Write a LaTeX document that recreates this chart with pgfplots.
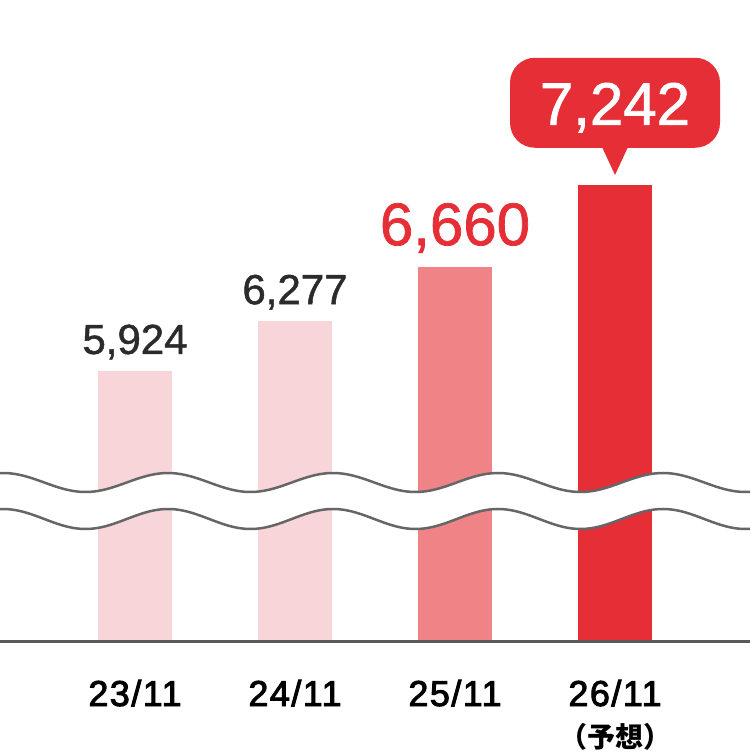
\documentclass[border=0pt]{standalone}
\usepackage{pgfplots}
\pgfplotsset{compat=1.18}
\usepackage{fontspec}
\setmainfont{Liberation Sans}
\newfontfamily\numfont{Liberation Sans}[FakeBold=1.2]
\newfontfamily\labfont{Liberation Sans}[FakeBold=2.5, LetterSpace=4]
\newfontfamily\cjk{Noto Sans CJK JP}
\definecolor{pinkA}{HTML}{F8D5D8}
\definecolor{pinkB}{HTML}{F08385}
\definecolor{redC}{HTML}{E62E36}
\definecolor{darktxt}{HTML}{2B2B2B}
\definecolor{linegray}{HTML}{5A5A5A}
\definecolor{wavegray}{HTML}{666666}
\begin{document}
\begin{tikzpicture}
\useasboundingbox (0,-113pt) rectangle (750pt,641pt);
\begin{axis}[
  at={(0,0)}, anchor=south west,
  scale only axis, width=750pt, height=641pt,
  xmin=-0.84375, xmax=3.84375, ymin=4010, ymax=8553,
  axis x line=bottom, axis y line=none,
  x axis line style={-, line width=3pt, draw=linegray},
  xtick={0,1,2,3},
  xticklabels={23/11,24/11,25/11,26/11},
  major tick length=0pt, xtick style={draw=none},
  ytick=\empty,
  xticklabel style={anchor=base, yshift=-65pt, text=black, font=\labfont\fontsize{36}{36}\selectfont},
  ybar, bar width=74pt, bar shift=0pt,
  axis on top,
  /pgf/number format/.cd, 1000 sep={,}, assume math mode=true
]
\addplot[fill=pinkA, draw=none, nodes near coords,
  nodes near coords style={anchor=base, yshift=17pt, text=darktxt, font=\numfont\fontsize{42}{42}\selectfont}]
  coordinates {(0,5924)};
\addplot[fill=pinkA, draw=none, nodes near coords,
  nodes near coords style={anchor=base, yshift=17pt, text=darktxt, font=\numfont\fontsize{42}{42}\selectfont}]
  coordinates {(1,6277)};
\addplot[fill=pinkB, draw=none, nodes near coords,
  nodes near coords style={anchor=base, yshift=22pt, text=redC, font=\numfont\fontsize{60}{60}\selectfont}]
  coordinates {(2,6660)};
\addplot[fill=redC, draw=none] coordinates {(3,7242)};
\node[fill=redC, rounded corners=25pt, minimum width=210pt, minimum height=90pt,
  anchor=south, text=white, inner sep=0pt, text height=44pt, text depth=0pt,
  font=\numfont\fontsize{60}{60}\selectfont] (box) at ([yshift=37pt]axis cs:3,7242) {7,242};
\fill[redC] ([xshift=-13pt,yshift=1pt]box.south) -- ([xshift=13pt,yshift=1pt]box.south)
  -- ([yshift=10pt]axis cs:3,7242) -- cycle;
\coordinate (c3) at (axis cs:3,4010);
\end{axis}
\node[anchor=base, yshift=-106pt, inner sep=0pt, text=black, font=\cjk\bfseries\fontsize{28}{28}\selectfont] at (c3) {（予想）};
\begin{scope}[x=1pt,y=1pt]
\fill[white] plot[domain=0:750,samples=200] (\x,{158.5+9.5*cos((\x-3)*2.181818)})
  -- plot[domain=750:0,samples=200] (\x,{122+10*cos((\x-3)*2.181818)}) -- cycle;
\draw[wavegray, line width=2.5pt] plot[domain=0:750,samples=200] (\x,{158.5+9.5*cos((\x-3)*2.181818)});
\draw[wavegray, line width=2.5pt] plot[domain=0:750,samples=200] (\x,{122+10*cos((\x-3)*2.181818)});
\end{scope}
\end{tikzpicture}
\end{document}
